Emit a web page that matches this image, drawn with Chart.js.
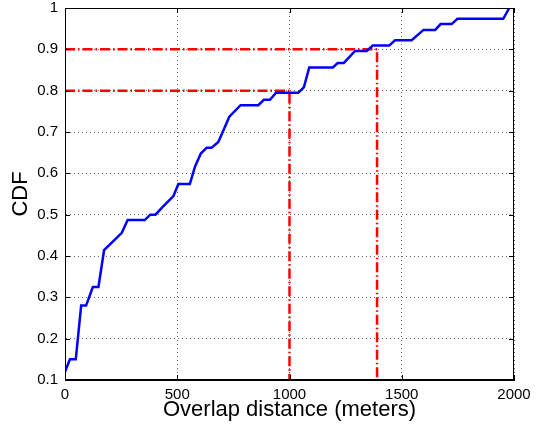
<!DOCTYPE html>
<html>
<head>
<meta charset="utf-8">
<script src="https://cdn.jsdelivr.net/npm/chart.js@4/dist/chart.umd.min.js"></script>
<style>
  html, body { margin: 0; padding: 0; background: #fff; }
  canvas { display: block; }
</style>
</head>
<body>
<canvas id="cdfChart" width="544" height="432"></canvas>
<script>
// distance (m) and CDF of the blue curve
const distance = [0, 22, 48, 72, 94, 124, 149, 174, 253, 279, 355, 380, 403, 432, 483, 505, 556,
    579, 605, 631, 653, 683, 732, 782, 861, 886, 913, 940, 1039, 1064, 1088, 1193, 1215, 1242,
    1292, 1344, 1371, 1444, 1470, 1544, 1597, 1649, 1673, 1722, 1748, 1952, 1979];
const cdf = [0.12, 0.15, 0.15, 0.28, 0.28, 0.325, 0.325, 0.414, 0.456, 0.487, 0.487, 0.5, 0.5, 0.517,
    0.545, 0.574, 0.574, 0.616, 0.648, 0.662, 0.662, 0.676, 0.737, 0.765, 0.765, 0.778, 0.778, 0.795,
    0.795, 0.808, 0.856, 0.856, 0.867, 0.867, 0.896, 0.896, 0.909, 0.909, 0.922, 0.922, 0.947, 0.947,
    0.961, 0.961, 0.974, 0.974, 1.0];

// red reference lines (80% and 90%)
const ref80X = [0, 1000, 1000];
const ref80Y = [0.8, 0.8, 0.1];
const ref90X = [0, 1390, 1390];
const ref90Y = [0.9, 0.9, 0.1];

const xTicks = [0, 500, 1000, 1500, 2000];
const xTickLabels = ['0', '500', '1000', '1500', '2000'];
const yTicks = [0.1, 0.2, 0.3, 0.4, 0.5, 0.6, 0.7, 0.8, 0.9, 1];
const yTickLabels = ['0.1', '0.2', '0.3', '0.4', '0.5', '0.6', '0.7', '0.8', '0.9', '1'];

function toPoints(xs, ys) {
    return xs.map((x, i) => ({ x: x, y: ys[i] }));
}

// black box + inward tick marks, MATLAB style
const boxPlugin = {
    id: 'box',
    afterDraw(chart) {
        const { ctx, chartArea: a, scales } = chart;
        ctx.save();
        ctx.strokeStyle = '#000';
        ctx.lineWidth = 1;
        ctx.strokeRect(a.left + 0.5, a.top + 0.5, a.right - a.left - 1, a.bottom - a.top - 1);
        ctx.beginPath();
        xTicks.forEach(v => {
            const px = Math.round(scales.x.getPixelForValue(v)) + 0.5;
            ctx.moveTo(px, a.bottom); ctx.lineTo(px, a.bottom - 5);
            ctx.moveTo(px, a.top); ctx.lineTo(px, a.top + 5);
        });
        yTicks.forEach(v => {
            const py = Math.round(scales.y.getPixelForValue(v)) + 0.5;
            ctx.moveTo(a.left, py); ctx.lineTo(a.left + 5, py);
            ctx.moveTo(a.right, py); ctx.lineTo(a.right - 5, py);
        });
        ctx.stroke();
        ctx.restore();
    }
};

const tickFont = { family: '"Liberation Sans", Arial, sans-serif', size: 15, lineHeight: 1 };
const titleFont = { family: '"Liberation Sans", Arial, sans-serif', size: 22 };
const gridOpts = {
    color: 'rgba(0,0,0,0.6)',
    lineWidth: 1,
    drawTicks: false,
};
const refDash = [10, 3, 1.5, 3];

const ctx = document.getElementById('cdfChart').getContext('2d');
new Chart(ctx, {
    type: 'scatter',
    data: {
        datasets: [
            {
                label: 'CDF',
                data: toPoints(distance, cdf),
                showLine: true,
                borderColor: '#0000ff',
                borderWidth: 2.5,
                pointRadius: 0,
                tension: 0,
            },
            {
                label: '80%',
                data: toPoints(ref80X, ref80Y),
                showLine: true,
                borderColor: '#ff0000',
                borderWidth: 2.5,
                borderDash: refDash,
                pointRadius: 0,
            },
            {
                label: '90%',
                data: toPoints(ref90X, ref90Y),
                showLine: true,
                borderColor: '#ff0000',
                borderWidth: 2.5,
                borderDash: refDash,
                pointRadius: 0,
            },
        ],
    },
    options: {
        responsive: false,
        animation: false,
        layout: { padding: { top: 8, right: 30, left: 0, bottom: 0 } },
        plugins: {
            legend: { display: false },
            tooltip: { enabled: false },
        },
        scales: {
            x: {
                type: 'linear',
                min: 0,
                max: 2000,
                afterBuildTicks: s => { s.ticks = xTicks.map(v => ({ value: v })); },
                afterFit: s => { s.height = 52; s.paddingLeft = 0; s.paddingRight = 0; },
                grid: gridOpts,
                border: { display: true, color: '#000', width: 1, dash: [1, 3] },
                ticks: {
                    font: tickFont, color: '#000', padding: 7, maxRotation: 0,
                    callback: (v, i) => xTickLabels[i],
                },
                title: {
                    display: true,
                    text: 'Overlap distance (meters)',
                    font: titleFont,
                    color: '#000',
                    padding: { top: 0, bottom: 9 },
                },
            },
            y: {
                type: 'linear',
                min: 0.1,
                max: 1,
                afterBuildTicks: s => { s.ticks = yTicks.map(v => ({ value: v })); },
                afterFit: s => { s.width = 65; s.paddingTop = 0; s.paddingBottom = 0; },
                grid: gridOpts,
                border: { display: true, color: '#000', width: 1, dash: [1, 3] },
                ticks: {
                    font: tickFont, color: '#000', padding: 7,
                    callback: (v, i) => yTickLabels[i],
                },
                title: {
                    display: true,
                    text: 'CDF',
                    font: titleFont,
                    color: '#000',
                    padding: { top: 8, bottom: 0 },
                },
            },
        },
    },
    plugins: [boxPlugin],
});
</script>
</body>
</html>
